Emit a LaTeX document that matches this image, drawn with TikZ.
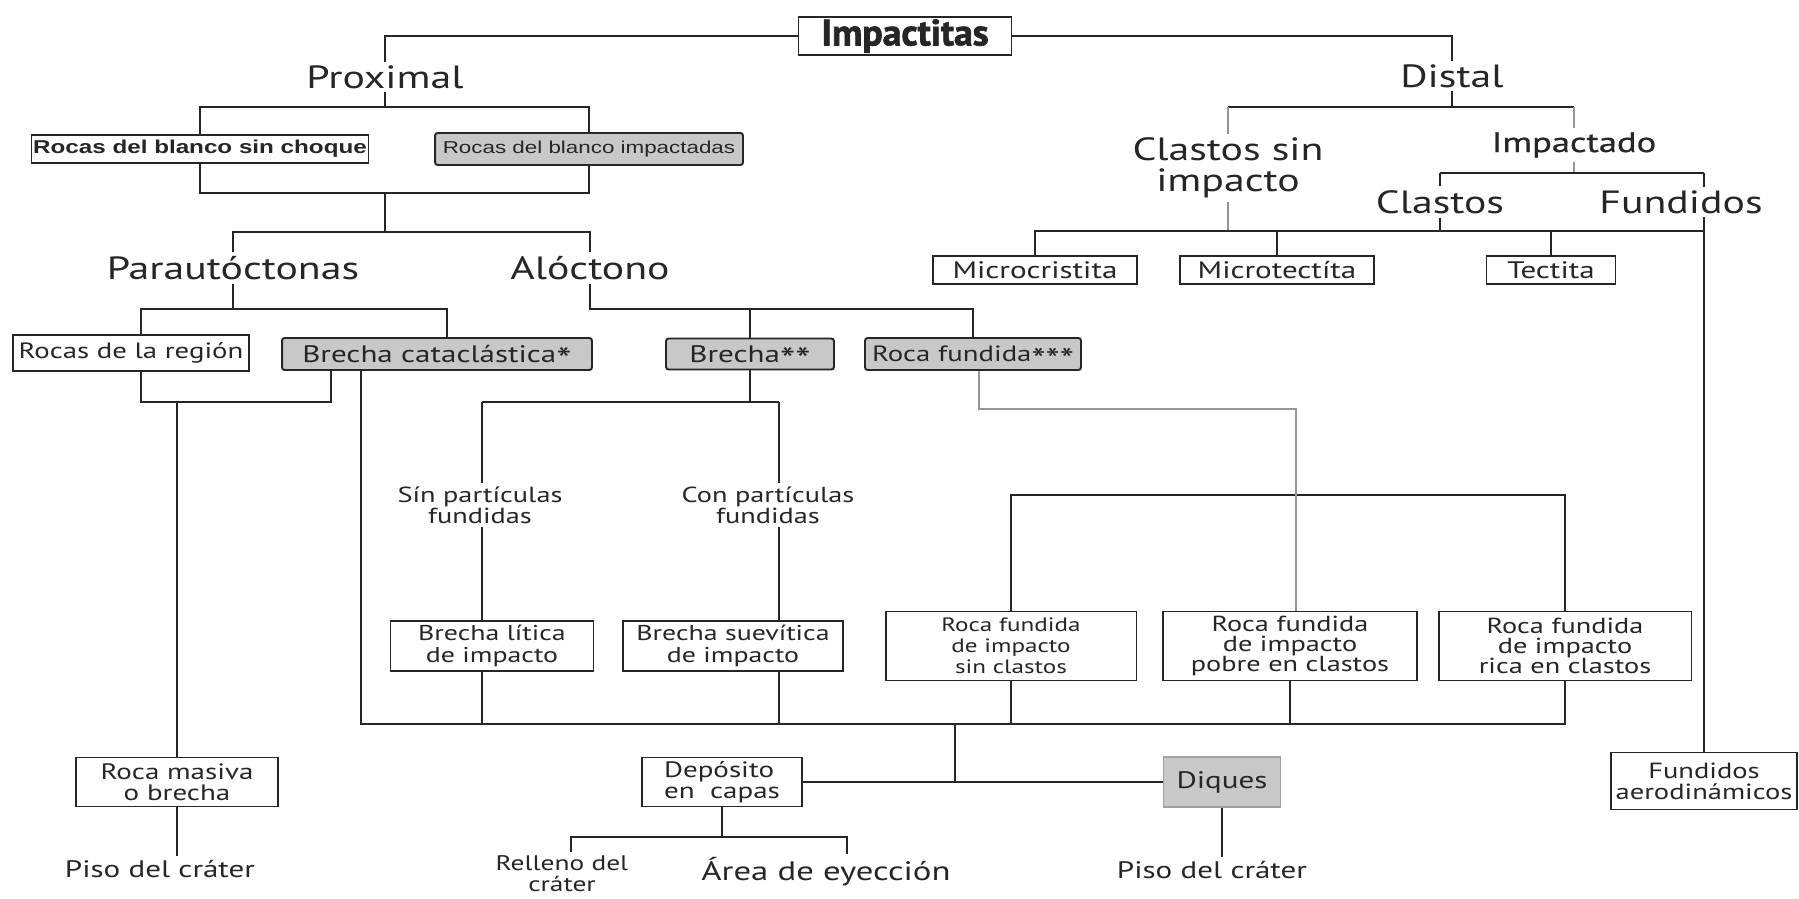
\documentclass[tikz,border=0pt]{standalone}
\usepackage{fontspec}
\setmainfont{PT Sans}[FakeStretch=1.3]
\newfontfamily\arialfont{Liberation Sans}[FakeStretch=1.3]
\newfontfamily\impactfont{PT Sans}[FakeStretch=1.02, FakeBold=1.8]
\newfontfamily\heavyfont{PT Sans}[FakeStretch=1.3, FakeBold=0.8]
\usepackage{xcolor}
\definecolor{inkgray}{RGB}{38,38,38}
\definecolor{boxgray}{RGB}{200,200,200}
\definecolor{linegray}{RGB}{150,150,150}
\newcommand{\marca}{\raisebox{-0.75ex}[0pt][0pt]{\scalebox{1.4}{*}}}

\begin{document}
\begin{tikzpicture}[x=0.02cm, y=-0.02cm,
  every node/.style={text=inkgray, align=center, inner sep=2pt},
  bigtext/.style={font=\fontsize{18.3}{17.5}\selectfont},
  midtext/.style={font=\fontsize{13.6}{14}\selectfont},
  smalltext/.style={font=\fontsize{12.4}{11.8}\selectfont},
  plainbox/.style={draw=inkgray, fill=white, line width=1.1pt, inner sep=0pt},
  shadedbox/.style={plainbox, fill=boxgray, rounded corners=1.5pt},
  link/.style={draw=inkgray, line width=1.1pt},
  palelink/.style={draw=linegray, line width=1.3pt}]
\fill[white] (0,0) rectangle (1799,899);
\useasboundingbox (0,0) rectangle (1799,899);

% Draw top of the tree
\node[plainbox, minimum width=4.26cm, minimum height=0.76cm,
  font=\impactfont\bfseries\fontsize{21}{22}\selectfont] (imp) at (905,36) {Impactitas};
\node[bigtext] (prox) at (385,77) {Proximal};
\node[bigtext] (dist) at (1452,76) {Distal};

% Draw proximal side
\node[plainbox, minimum width=6.74cm, minimum height=0.56cm,
  font=\arialfont\bfseries\fontsize{10.6}{11}\selectfont] (sinch) at (200,149) {Rocas del blanco sin choque};
\node[shadedbox, minimum width=6.16cm, minimum height=0.64cm,
  font=\arialfont\fontsize{9.8}{10}\selectfont] (impac) at (589,149) {Rocas del blanco impactadas};
\node[bigtext] (para) at (233,268) {Parautóctonas};
\node[bigtext] (alo) at (590,268) {Alóctono};
\node[plainbox, font=\fontsize{12.6}{13}\selectfont, minimum width=4.72cm, minimum height=0.72cm] (region) at (131,353) {Rocas de la región};
\node[shadedbox, midtext, minimum width=6.20cm, minimum height=0.64cm] (catacl) at (437,354) {Brecha cataclástica\marca};
\node[shadedbox, midtext, minimum width=3.36cm, minimum height=0.62cm] (brecha) at (750,354) {Brecha\marca\marca};
\node[shadedbox, font=\fontsize{12.6}{13}\selectfont, minimum width=4.32cm, minimum height=0.64cm] (fund) at (973,354) {Roca fundida\marca\marca\marca};
\node[smalltext] (sinp) at (480,505) {Sín partículas\\fundidas};
\node[smalltext] (conp) at (768,505) {Con partículas\\fundidas};
\node[plainbox, font=\fontsize{12.2}{12.3}\selectfont, minimum width=4.06cm, minimum height=1cm] (litica) at (492,646) {Brecha lítica\\de impacto};
\node[plainbox, font=\fontsize{12.2}{12.3}\selectfont, minimum width=4.40cm, minimum height=1cm] (suev) at (733,646) {Brecha suevítica\\de impacto};
\node[plainbox, font=\fontsize{11}{12}\selectfont, minimum width=5.02cm, minimum height=1.38cm] (rfsin) at (1011,646) {Roca fundida\\de impacto\\sin clastos};
\node[plainbox, font=\fontsize{12.4}{11.6}\selectfont, minimum width=5.08cm, minimum height=1.38cm] (rfpobre) at (1290,646) {Roca fundida\\de impacto\\pobre en clastos};
\node[plainbox, font=\fontsize{12.4}{11.6}\selectfont, minimum width=5.06cm, minimum height=1.38cm] (rfrica) at (1565,646) {Roca fundida\\de impacto\\rica en clastos};
\node[plainbox, font=\fontsize{12.7}{12}\selectfont, minimum width=4.04cm, minimum height=0.98cm] (masiva) at (177,782) {Roca masiva\\o brecha};
\node[plainbox, font=\fontsize{12.7}{12}\selectfont, minimum width=3.20cm, minimum height=0.98cm, align=left] (dep) at (722,782) {Depósito\\en\ \ capas};
\node[draw=boxgray!80!black, fill=boxgray, line width=0.6pt, inner sep=0pt, midtext,
  minimum width=2.34cm, minimum height=1cm] (diques) at (1222,782) {Diques};
\node[font=\fontsize{13.6}{14}\selectfont] (piso1) at (160,869) {Piso del cráter};
\node[font=\fontsize{12}{11.8}\selectfont] (relleno) at (562,874) {Relleno del\\cráter};
\node[font=\fontsize{15.2}{15}\selectfont] (area) at (826,872) {Área de eyección};
\node[font=\fontsize{13.6}{14}\selectfont] (piso2) at (1212,870) {Piso del cráter};

% Draw distal side
\node[bigtext] (csin) at (1228,168) {Clastos sin\\impacto};
\node[font=\heavyfont\fontsize{16}{17}\selectfont] (impd) at (1574,145) {Impactado};
\node[bigtext] (clas) at (1440,202) {Clastos};
\node[bigtext] (fundi) at (1681,202) {Fundidos};
\node[plainbox, midtext, minimum width=4.08cm, minimum height=0.56cm] (micro1) at (1035,270) {Microcristita};
\node[plainbox, midtext, minimum width=3.88cm, minimum height=0.56cm] (micro2) at (1277,270) {Microtectíta};
\node[plainbox, midtext, minimum width=2.58cm, minimum height=0.56cm] (tect) at (1551,270) {Tectita};
\node[plainbox, font=\fontsize{12.5}{12}\selectfont, minimum width=3.72cm, minimum height=1.14cm] (aerod) at (1704,781) {Fundidos\\aerodinámicos};

% Connect top
\draw[link] (imp.west) -| (prox.north);
\draw[link] (imp.east) -| (dist.north);

% Connect proximal branch
\coordinate (jprox) at (385,107);
\draw[link] (prox.south) -- (jprox);
\draw[link] (sinch.north) |- (jprox) -| (impac.north);
\coordinate (jblanco) at (385,193);
\coordinate (jroca) at (385,232);
\draw[link] (sinch.south) |- (jblanco) -| (impac.south);
\draw[link] (jblanco) -- (jroca);
\draw[link] (para.north) |- (jroca) -| (alo.north);

% Parautoctonas
\coordinate (jpara) at (233,309);
\draw[link] (para.south) -- (jpara);
\draw[link] ([xshift=0.2cm]region.north) |- (jpara) -| ([xshift=0.2cm]catacl.north);
\coordinate (jcampo) at (177,402);
\draw[link] ([xshift=0.2cm]region.south) |- (jcampo) -| ([xshift=1cm]catacl.south west);
\draw[link] (jcampo) -- (masiva.north);
\draw[link] (masiva.south) -- (masiva.south |- piso1.north);

% Aloctono
\coordinate (jalo) at (590,309);
\draw[link] (alo.south) -- (jalo) -| (fund.north);
\draw[link] (brecha.north) -- (brecha.north |- jalo);

% Brecha
\coordinate (jbrecha) at (750,402);
\coordinate (lsin) at (482,402);
\coordinate (lcon) at (779,402);
\draw[link] (brecha.south) -- (jbrecha);
\draw[link] (lsin) -- (lcon);
\draw[link] (lsin) -- (lsin |- sinp.north);
\draw[link] (lsin |- sinp.south) -- (lsin |- litica.north);
\draw[link] (lcon) -- (lcon |- conp.north);
\draw[link] (lcon |- conp.south) -- (lcon |- suev.north);

% Roca fundida
\coordinate (jrf) at (1296,495);
\draw[link] (rfsin.north) |- (jrf) -| (rfrica.north);
\coordinate (jfund) at (1296,409);
\draw[palelink] ([xshift=0.12cm]fund.south) |- (jfund) -- (jfund |- rfpobre.north);

% Bottom bar
\coordinate (jbase) at (955,724);
\draw[link] ([xshift=1.6cm]catacl.south west) |- (jbase) -| (rfrica.south);
\draw[link] (lsin |- litica.south) -- (lsin |- jbase);
\draw[link] (lcon |- suev.south) -- (lcon |- jbase);
\draw[link] (rfsin.south) -- (rfsin.south |- jbase);
\draw[link] (rfpobre.south) -- (rfpobre.south |- jbase);
\draw[link] (jbase) -- (jbase |- dep.east);
\draw[link] (dep.east) -- (diques.west);
\draw[link] (diques.south) -- (diques.south |- piso2.north);
\coordinate (jcapas) at (722,837);
\draw[link] (dep.south) -- (jcapas);
\draw[link] ([xshift=0.18cm]relleno.north) |- (jcapas) -| ([xshift=0.42cm]area.north);

% Connect distal branch
\coordinate (jdist) at (1452,107);
\draw[link] (dist.south) -- (jdist);
\draw[link] (csin.north |- jdist) -- (impd.north |- jdist);
\draw[palelink] (csin.north |- jdist) -- (csin.north);
\draw[palelink] (impd.north |- jdist) -- (impd.north);
\coordinate (jimpd) at (1574,173);
\draw[palelink] (impd.south) -- (jimpd);
\draw[link] (clas.north |- jimpd) -- (aerod.north |- jimpd);
\draw[link] (clas.north |- jimpd) -- (clas.north);
\draw[link] (aerod.north |- jimpd) -- (aerod.north |- fundi.north);
\coordinate (jmicro) at (1228,231);
\draw[palelink] (csin.south) -- (jmicro);
\draw[link] (micro1.north) |- (aerod.north |- jmicro);
\draw[link] (micro2.north) -- (micro2.north |- jmicro);
\draw[link] (tect.north) -- (tect.north |- jmicro);
\draw[link] (clas.south) -- (clas.south |- jmicro);
\draw[link] (aerod.north |- fundi.south) -- (aerod.north);
\end{tikzpicture}
\end{document}
